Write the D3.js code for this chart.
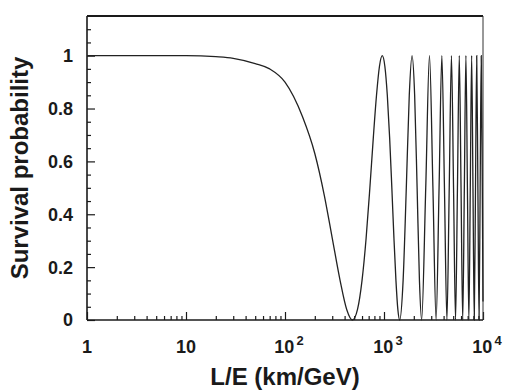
<!DOCTYPE html>
<html>
<head>
<meta charset="utf-8">
<script src="https://cdn.jsdelivr.net/npm/d3@7"></script>
<style>
  body { margin: 0; background: #fff; }
  text { font-family: "Liberation Sans", Arial, sans-serif; font-weight: bold; fill: #1a1a1a; }
</style>
</head>
<body>
<div id="chart"></div>
<script>
// L/E (km/GeV) and survival probability
const leValues = [1, 2, 5, 10, 20, 30, 50, 70, 100, 150, 200, 250, 300, 360, 420, 480,
    540, 600, 660, 720, 780, 840, 900, 960, 1020, 1080, 1140, 1200, 1260, 1320, 1380, 1440,
    1560, 1680, 1800, 1920, 2040, 2160, 2280, 2400,
    2640, 2880, 3120, 3360, 3600, 3840, 4080, 4320, 4560, 4800, 5040, 5280, 5520, 5760,
    6000, 6240, 6480, 6720, 6960, 7200, 7440, 7680, 7920, 8160, 8400, 8640, 8880, 9120,
    9360, 9600, 9840, 10000];
const pValues = [1, 1, 1, 1, 0.996, 0.99, 0.97, 0.95, 0.90, 0.77, 0.63, 0.47, 0.31, 0.15, 0.04, 0,
    0.04, 0.15, 0.31, 0.5, 0.69, 0.85, 0.96, 1, 0.96, 0.85, 0.69, 0.5, 0.31, 0.15, 0.04, 0,
    0.15, 0.5, 0.85, 1, 0.85, 0.5, 0.15, 0,
    0.5, 1, 0.5, 0, 0.5, 1, 0.5, 0, 0.5, 1, 0.5, 0, 0.5, 1,
    0.5, 0, 0.5, 1, 0.5, 0, 0.5, 1, 0.5, 0, 0.5, 1, 0.5, 0,
    0.5, 1, 0.5, 0.07];

const xMajor = [1, 10, 100, 1000, 10000];
const xLabelExp = [null, null, 2, 3, 4];
const yMajor = [0, 0.2, 0.4, 0.6, 0.8, 1];
const yLabels = ["0", "0.2", "0.4", "0.6", "0.8", "1"];

const width = 510;
const height = 391;
const margin = {t: 16, b: 71, l: 87, r: 27};

const svg = d3.select("#chart")
    .append("svg")
    .attr("width", width)
    .attr("height", height)
    .attr("viewBox", [0, 0, width, height]);

const xScale = d3.scaleLog()
    .domain([1, 10000])
    .range([margin.l, width - margin.r]);
const yScale = d3.scaleLinear()
    .domain([0, 1.15])
    .range([height - margin.b, margin.t]);

// minor ticks
const xMinor = [];
for (let d = 1; d < 10000; d *= 10) {
    for (let k = 2; k < 10; k++) xMinor.push(d * k);
}
const yMinor = d3.range(0.05, 1.15, 0.05).filter(v => Math.abs(v * 5 - Math.round(v * 5)) > 1e-6);

const bottom = height - margin.b;

svg.append("g")
    .attr("transform", `translate(0, ${bottom})`)
    .call(d3.axisBottom(xScale).tickValues(xMajor).tickSizeInner(-8).tickSizeOuter(0).tickFormat(""))
    .call(g => g.select(".domain").remove())
    .selectAll("line").attr("stroke", "#1a1a1a").attr("stroke-width", 1.2);
svg.append("g")
    .attr("transform", `translate(0, ${bottom})`)
    .call(d3.axisBottom(xScale).tickValues(xMinor).tickSizeInner(-4).tickSizeOuter(0).tickFormat(""))
    .call(g => g.select(".domain").remove())
    .selectAll("line").attr("stroke", "#1a1a1a").attr("stroke-width", 1.2);

svg.append("g")
    .attr("transform", `translate(${margin.l}, 0)`)
    .call(d3.axisLeft(yScale).tickValues(yMajor).tickSizeInner(-8).tickSizeOuter(0).tickFormat(""))
    .call(g => g.select(".domain").remove())
    .selectAll("line").attr("stroke", "#1a1a1a").attr("stroke-width", 1.2);
svg.append("g")
    .attr("transform", `translate(${margin.l}, 0)`)
    .call(d3.axisLeft(yScale).tickValues(yMinor).tickSizeInner(-4).tickSizeOuter(0).tickFormat(""))
    .call(g => g.select(".domain").remove())
    .selectAll("line").attr("stroke", "#1a1a1a").attr("stroke-width", 1.2);

// frame
svg.append("line")
    .attr("x1", margin.l).attr("x2", width - margin.r)
    .attr("y1", margin.t).attr("y2", margin.t)
    .attr("stroke", "#1a1a1a").attr("stroke-width", 2);
svg.append("line")
    .attr("x1", width - margin.r).attr("x2", width - margin.r)
    .attr("y1", margin.t).attr("y2", bottom)
    .attr("stroke", "#333").attr("stroke-width", 1);
svg.append("line")
    .attr("x1", margin.l).attr("x2", margin.l)
    .attr("y1", margin.t).attr("y2", bottom)
    .attr("stroke", "#1a1a1a").attr("stroke-width", 1.6);
svg.append("line")
    .attr("x1", margin.l).attr("x2", width - margin.r)
    .attr("y1", bottom).attr("y2", bottom)
    .attr("stroke", "#1a1a1a").attr("stroke-width", 1.6);

// curve
const points = leValues.map((d, i) => [d, pValues[i]]);
const line = d3.line()
    .x(d => xScale(d[0]))
    .y(d => yScale(d[1]))
    .curve(d3.curveMonotoneX);
svg.append("path")
    .datum(points)
    .attr("d", line)
    .attr("fill", "none")
    .attr("stroke", "#222")
    .attr("stroke-width", 1.3);

// y tick labels
svg.selectAll(".ylab")
    .data(yMajor)
    .join("text")
    .attr("class", "ylab")
    .attr("x", margin.l - 14)
    .attr("y", d => yScale(d))
    .attr("dy", "0.36em")
    .attr("text-anchor", "end")
    .style("font-size", "18px")
    .text((d, i) => yLabels[i]);

// x tick labels
const xl = svg.selectAll(".xlab")
    .data(xMajor)
    .join("text")
    .attr("class", "xlab")
    .attr("x", (d, i) => xScale(d) + (xLabelExp[i] === null ? 0 : 4))
    .attr("y", bottom + 33)
    .attr("text-anchor", "middle")
    .style("font-size", "18px");
xl.append("tspan").text(d => d === 1 ? "1" : "10");
xl.filter((d, i) => xLabelExp[i] !== null)
    .append("tspan")
    .attr("dy", "-0.6em")
    .attr("dx", "2")
    .style("font-size", "13px")
    .text((d) => xLabelExp[xMajor.indexOf(d)]);

// axis titles
svg.append("text")
    .attr("x", 285)
    .attr("y", 385)
    .attr("text-anchor", "middle")
    .style("font-size", "24px")
    .text("L/E (km/GeV)");

svg.append("text")
    .attr("transform", `translate(28, ${(margin.t + bottom) / 2}) rotate(-90)`)
    .attr("text-anchor", "middle")
    .style("font-size", "24px")
    .text("Survival probability");
</script>
</body>
</html>
